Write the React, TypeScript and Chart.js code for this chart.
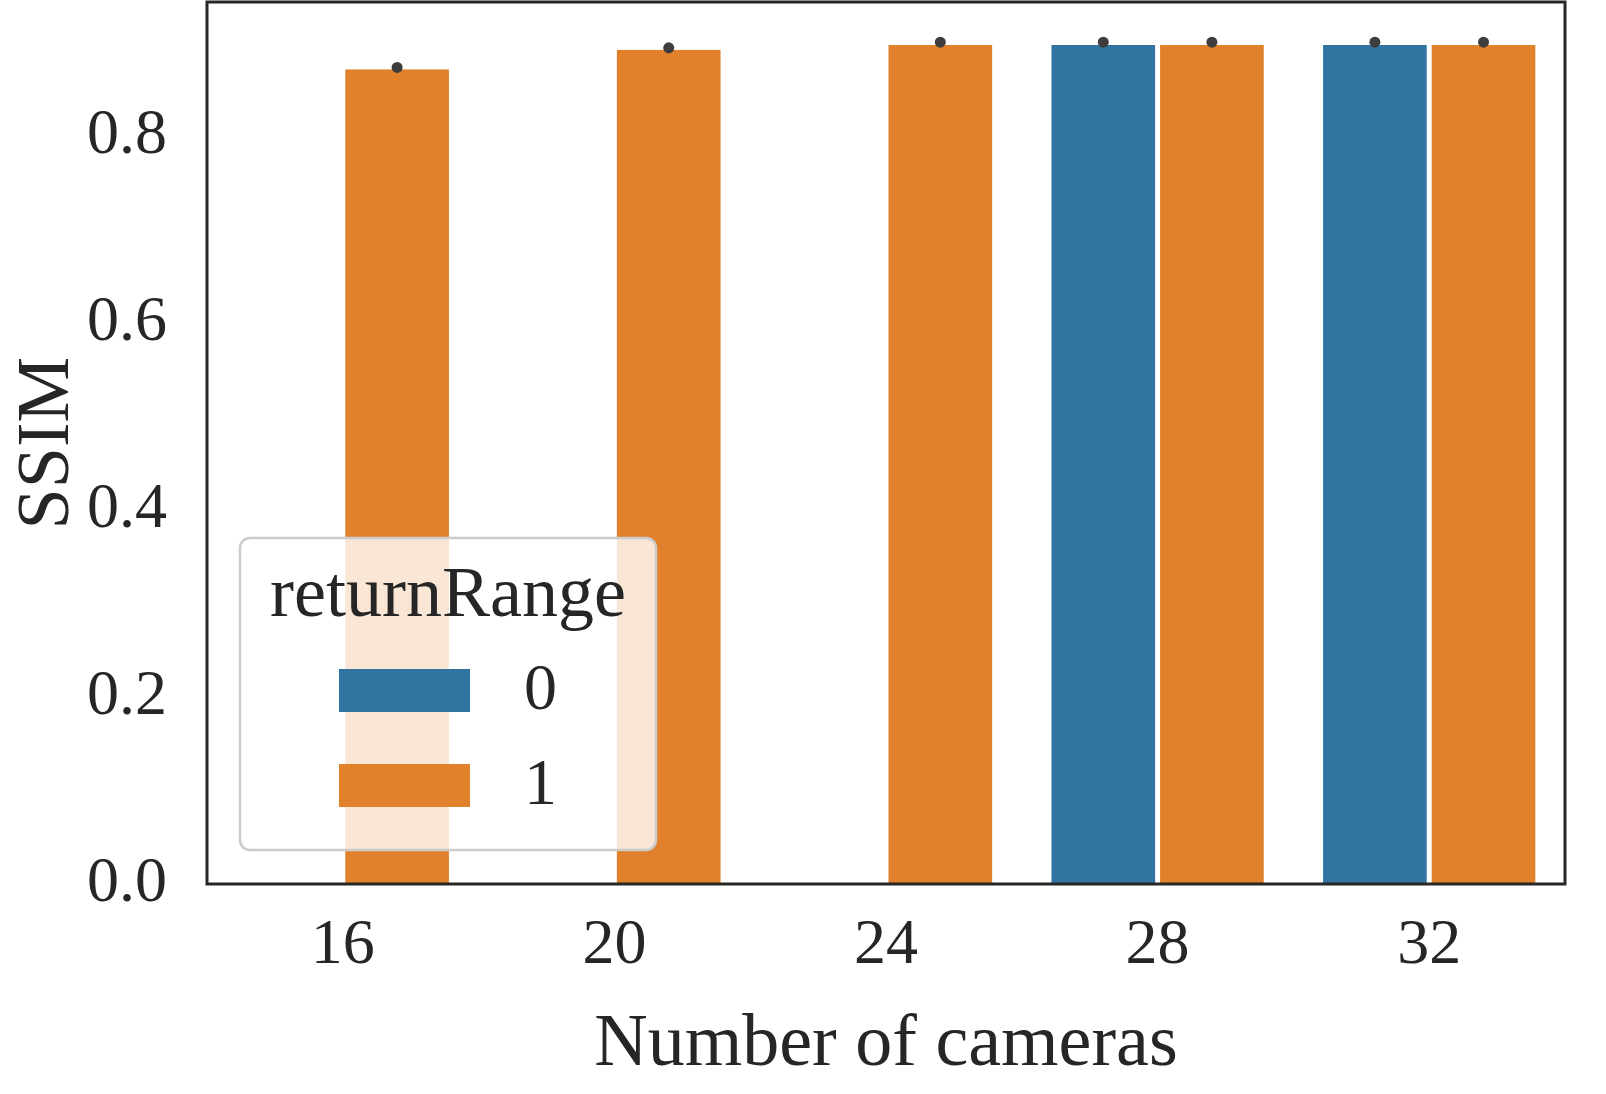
import React, { useEffect, useRef } from "react";
import { Chart, registerables } from "chart.js";

Chart.register(...registerables);

const cameras = ["16", "20", "24", "28", "32"];
const range0 = [null, null, null, 0.897, 0.897];
const range1 = [0.871, 0.892, 0.897, 0.897, 0.897];
// upper end of the (tiny) error bars
const range0Err = [null, null, null, 0.900, 0.900];
const range1Err = [0.873, 0.894, 0.900, 0.900, 0.900];
const yTicks = [0, 0.2, 0.4, 0.6, 0.8];

const BLUE = "#3274a1";
const ORANGE = "#e1812c";
const INK = "#262626";
const FONT = "'Liberation Serif', 'DejaVu Serif', serif";

const framePlugin = {
  id: "frame",
  afterDraw(chart: any) {
    const { ctx, chartArea: a } = chart;
    // error bar dots
    const errs = [range0Err, range1Err];
    ctx.save();
    ctx.fillStyle = "#3d3d3d";
    errs.forEach((arr, di) => {
      const meta = chart.getDatasetMeta(di);
      arr.forEach((v, i) => {
        if (v == null) return;
        const bar = meta.data[i];
        const y = chart.scales.y.getPixelForValue(v);
        ctx.beginPath();
        ctx.arc(bar.x, y, 5.5, 0, Math.PI * 2);
        ctx.fill();
      });
    });
    // frame
    ctx.strokeStyle = INK;
    ctx.lineWidth = 3;
    ctx.strokeRect(a.left, a.top, a.right - a.left, a.bottom - a.top);
    // legend
    const lx = 240, ly = 538, lw = 416, lh = 312, r = 10;
    ctx.beginPath();
    ctx.roundRect(lx, ly, lw, lh, r);
    ctx.fillStyle = "rgba(255,255,255,0.8)";
    ctx.fill();
    ctx.strokeStyle = "#cccccc";
    ctx.lineWidth = 2.5;
    ctx.stroke();
    ctx.fillStyle = INK;
    ctx.font = `72px ${FONT}`;
    ctx.textAlign = "center";
    ctx.textBaseline = "middle";
    ctx.fillText("returnRange", lx + lw / 2, 597);
    const entries = [
      { label: "0", color: BLUE, y: 690 },
      { label: "1", color: ORANGE, y: 785 },
    ];
    entries.forEach((e) => {
      ctx.fillStyle = e.color;
      ctx.fillRect(339, e.y - 21, 131, 43);
      ctx.fillStyle = INK;
      ctx.textAlign = "left";
      ctx.font = `66px ${FONT}`;
      ctx.fillText(e.label, 524, e.y + 2);
    });
    ctx.restore();
  },
};

const App: React.FC = () => {
  const canvasRef = useRef<HTMLCanvasElement | null>(null);
  const chartRef = useRef<Chart | null>(null);

  useEffect(() => {
    document.body.style.margin = "0";
    document.body.style.overflow = "hidden";
    if (!canvasRef.current) return;
    if (chartRef.current) chartRef.current.destroy();
    const border = { top: 0, bottom: 0, left: 2.5, right: 2.5 };
    chartRef.current = new Chart(canvasRef.current, {
      type: "bar",
      data: {
        labels: cameras,
        datasets: [
          { label: "0", data: range0, backgroundColor: BLUE, borderColor: "#fff", borderWidth: border },
          { label: "1", data: range1, backgroundColor: ORANGE, borderColor: "#fff", borderWidth: border },
        ],
      },
      options: {
        animation: false,
        responsive: false,
        devicePixelRatio: 1,
        layout: { padding: { top: 2, right: 41, left: 0, bottom: 0 } },
        datasets: { bar: { categoryPercentage: 0.8, barPercentage: 1 } },
        plugins: { legend: { display: false }, tooltip: { enabled: false } },
        scales: {
          x: {
            grid: { display: false, drawTicks: false },
            border: { display: false },
            ticks: { color: INK, font: { family: FONT, size: 64 }, padding: 24, maxRotation: 0 },
            title: { display: true, text: "Number of cameras", color: INK, font: { family: FONT, size: 74 }, padding: { top: 0 } },
            afterFit: (s: any) => {
              s.height = 210;
              s.paddingLeft = 0;
              s.paddingRight = 0;
            },
          },
          y: {
            min: 0,
            max: 0.943,
            grid: { display: false, drawTicks: false },
            border: { display: false },
            afterBuildTicks: (s: any) => { s.ticks = yTicks.map((v) => ({ value: v })); },
            ticks: { color: INK, font: { family: FONT, size: 64 }, padding: 40, callback: (v: any) => Number(v).toFixed(1) },
            title: { display: true, text: "SSIM", color: INK, font: { family: FONT, size: 74 }, padding: { bottom: 0 } },
            afterFit: (s: any) => {
              s.width = 207;
              s.paddingTop = 0;
              s.paddingBottom = 0;
            },
          },
        },
      },
      plugins: [framePlugin],
    });
    return () => {
      if (chartRef.current) chartRef.current.destroy();
      chartRef.current = null;
    };
  }, []);

  return (
    <div style={{ background: "#fff", width: 1606, height: 1094, overflow: "hidden" }}>
      <canvas ref={canvasRef} width={1606} height={1094} style={{ display: "block", width: 1606, height: 1094 }}></canvas>
    </div>
  );
};

export default App;
